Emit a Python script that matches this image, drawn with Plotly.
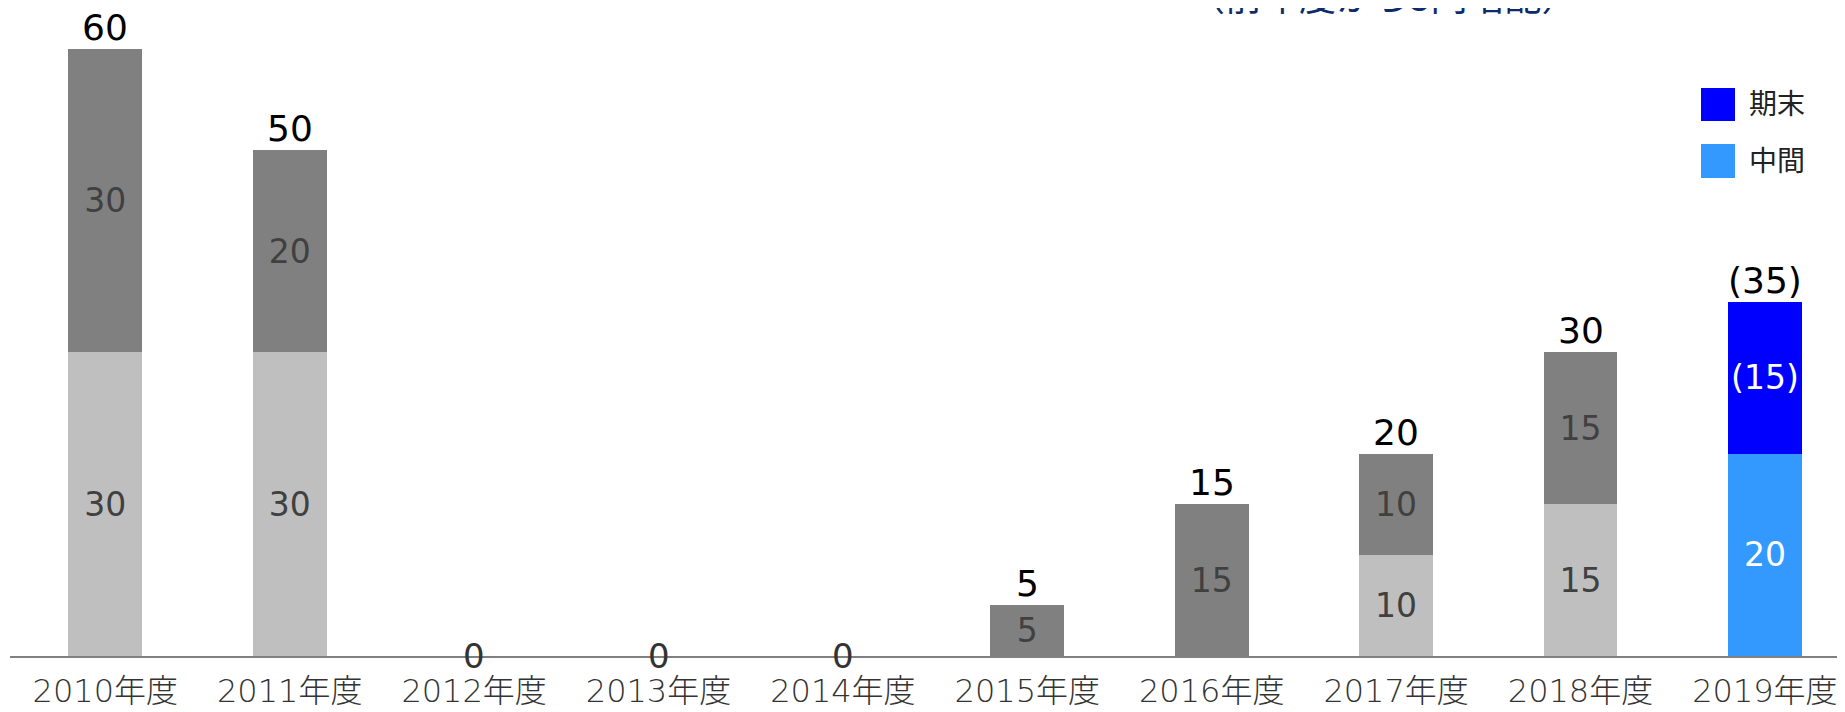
import plotly.graph_objects as go

# ---- data ----
years = ["2010年度", "2011年度", "2012年度", "2013年度", "2014年度",
         "2015年度", "2016年度", "2017年度", "2018年度", "2019年度"]
interim = [30, 30, 0, 0, 0, 0, 0, 10, 15, 20]      # 中間
year_end = [30, 20, 0, 0, 0, 5, 15, 10, 15, 15]    # 期末
forecast = [False] * 9 + [True]                     # 2019 year-end = forecast
legend_names = ["期末", "中間"]
title_text = "（前年度から5円増配）"

# ---- style ----
OFF = 8                      # page body margin
W, H = 1845 - OFF, 712 - OFF
L, R, T, B = 2, 0, 0, 56
PW, PH = W - L - R, H - T - B
FONT = "DejaVu Sans, Noto Sans CJK JP, sans-serif"
C_INT_PAST, C_END_PAST = "#bfbfbf", "#808080"
C_INT_FC, C_END_FC = "#3399ff", "#0000ff"


def fmt(v, paren):
    if not v:
        return ""
    return f"({v})" if paren else str(v)


def px2paper(px, py):
    # px, py in page (reference) pixels
    return (px - OFF - L) / PW, 1 - (py - OFF - T) / PH


fig = go.Figure()


def add(values, color, textcolor, want_fc, paren):
    xs, ys, ts = [], [], []
    for yr, v, fc in zip(years, values, forecast):
        if fc == want_fc:
            xs.append(yr)
            ys.append(v)
            ts.append(fmt(v, paren))
    fig.add_trace(go.Bar(
        x=xs, y=ys, text=ts, textposition="inside", insidetextanchor="middle",
        constraintext="none", textangle=0,
        textfont=dict(family=FONT, size=33, color=textcolor),
        marker=dict(color=color, line=dict(width=0)),
        showlegend=False, hoverinfo="skip",
    ))


add(interim, C_INT_PAST, "#404040", False, False)
add(year_end, C_END_PAST, "#404040", False, False)
add(interim, C_INT_FC, "#ffffff", True, False)
add(year_end, C_END_FC, "#ffffff", True, True)

# totals above bars
for yr, a, b, fc in zip(years, interim, year_end, forecast):
    t = a + b
    label = f"({t})" if fc else str(t)
    if t == 0:
        fig.add_annotation(x=yr, y=0, text=label, showarrow=False,
                           yanchor="middle", yshift=0,
                           font=dict(family=FONT, size=34, color="#333333"))
    else:
        fig.add_annotation(x=yr, y=t, text=label, showarrow=False,
                           yanchor="bottom", yshift=-1,
                           font=dict(family=FONT, size=36, color="#000000"))

# legend (custom, large swatches)
leg_colors = [C_END_FC, C_INT_FC]
leg_rows = [(88, 121), (144, 178)]
for name, col, (y0, y1) in zip(legend_names, leg_colors, leg_rows):
    x0p, y0p = px2paper(1701, y1)
    x1p, y1p = px2paper(1735, y0)
    fig.add_shape(type="rect", xref="paper", yref="paper",
                  x0=x0p, x1=x1p, y0=y0p, y1=y1p,
                  fillcolor=col, line=dict(width=0))
    tx, ty = px2paper(1747, (y0 + y1) / 2)
    fig.add_annotation(xref="paper", yref="paper", x=tx, y=ty, text=name,
                       showarrow=False, xanchor="left", yanchor="middle",
                       font=dict(family=FONT, size=28, color="#222222"))

# cut-off heading at top right
hx, _ = px2paper(1383, 0)
fig.add_annotation(xref="paper", yref="paper", x=hx, y=1, text=title_text,
                   showarrow=False, xanchor="center", yanchor="middle",
                   yshift=13,
                   font=dict(family="Noto Sans CJK JP", size=37, color="#0d2b6b"))

cat_w = 184.4
c0 = 105.3 - OFF
fig.update_layout(
    width=W, height=H,
    margin=dict(l=L, r=R, t=T, b=B, pad=0, autoexpand=False),
    barmode="stack", bargap=0.599,
    plot_bgcolor="white", paper_bgcolor="white",
    showlegend=False,
    xaxis=dict(
        categoryorder="array", categoryarray=years,
        range=[-(c0 - L) / cat_w, (W - c0) / cat_w],
        showgrid=False, zeroline=False, automargin=False,
        showline=True, linecolor="#808080", linewidth=2,
        ticks="", ticklabelstandoff=6,
        tickfont=dict(family=FONT, size=32, color="#333333", weight=300),
    ),
    yaxis=dict(range=[0, PH / 10.12], visible=False, automargin=False),
)

fig.write_html("out.html")
